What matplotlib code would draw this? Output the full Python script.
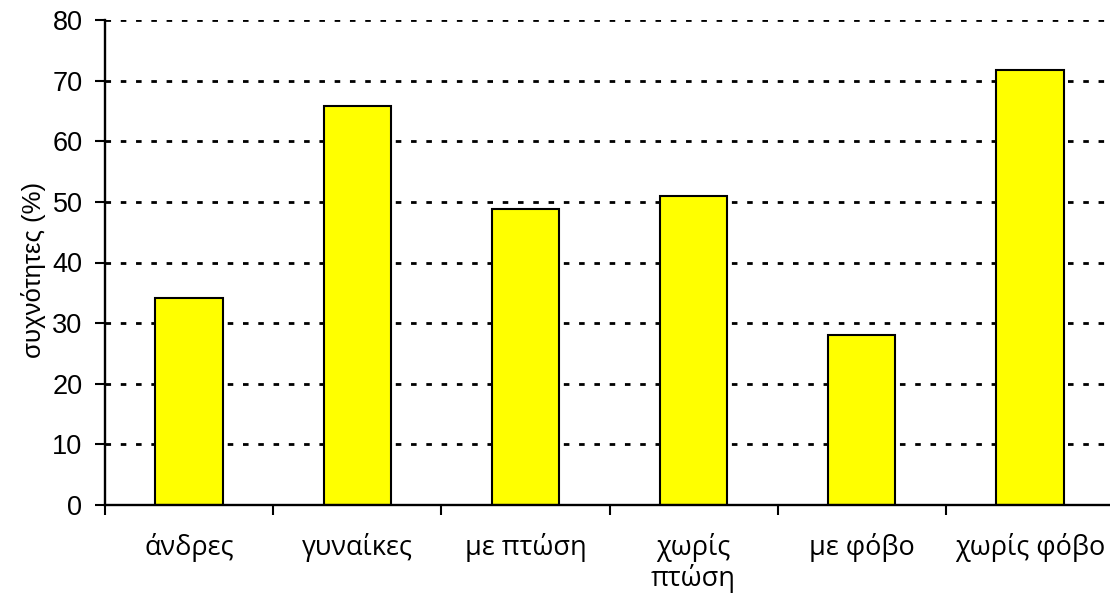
import matplotlib
matplotlib.use("Agg")
import matplotlib.pyplot as plt
from matplotlib.ticker import FixedLocator, NullFormatter

categories = ["άνδρες", "γυναίκες", "με πτώση", "χωρίς\nπτώση", "με φόβο", "χωρίς φόβο"]
values = [34.2, 65.8, 48.9, 51.0, 28.1, 71.8]
yticks = [0, 10, 20, 30, 40, 50, 60, 70, 80]
ylabel = "συχνότητες (%)"

fig = plt.figure(figsize=(11.10, 5.99), dpi=100)
ax = fig.add_axes([105/1110, 94/599, 1009/1110, 485/599])

x = [i + 0.5 for i in range(len(categories))]
ax.bar(x, values, width=0.4, color="#ffff00", edgecolor="black", linewidth=1.5, zorder=3)

ax.set_xlim(0, len(categories))
ax.set_ylim(0, 80)
ax.set_yticks(yticks)
ax.set_yticklabels([str(v) for v in yticks], fontfamily="Liberation Sans", fontsize=19.5)

ax.xaxis.set_major_locator(FixedLocator(list(range(len(categories) + 1))))
ax.xaxis.set_major_formatter(NullFormatter())
ax.xaxis.set_minor_locator(FixedLocator(x))
ax.set_xticklabels(categories, minor=True, fontfamily="Open Sans", fontsize=19.5,
                   linespacing=1.1)
ax.tick_params(axis="x", which="minor", length=0, pad=20)
ax.tick_params(axis="x", which="major", direction="out", length=7.2, width=1.5, color="black")
ax.tick_params(axis="y", direction="out", length=7.2, width=1.5, pad=9, color="black")

for s in ["top", "right"]:
    ax.spines[s].set_visible(False)
for s in ["left", "bottom"]:
    ax.spines[s].set_linewidth(1.7)
    ax.spines[s].set_zorder(4)

ax.yaxis.grid(True, color="black", linewidth=2.0, linestyle=(0, (2.0, 3.5)), zorder=0)
ax.set_axisbelow(True)

ax.set_ylabel(ylabel, fontfamily="Liberation Sans", fontsize=18.5, labelpad=11)
ax.yaxis.set_label_coords(-0.058, 0.485)

fig.savefig("out.png", dpi=100)
